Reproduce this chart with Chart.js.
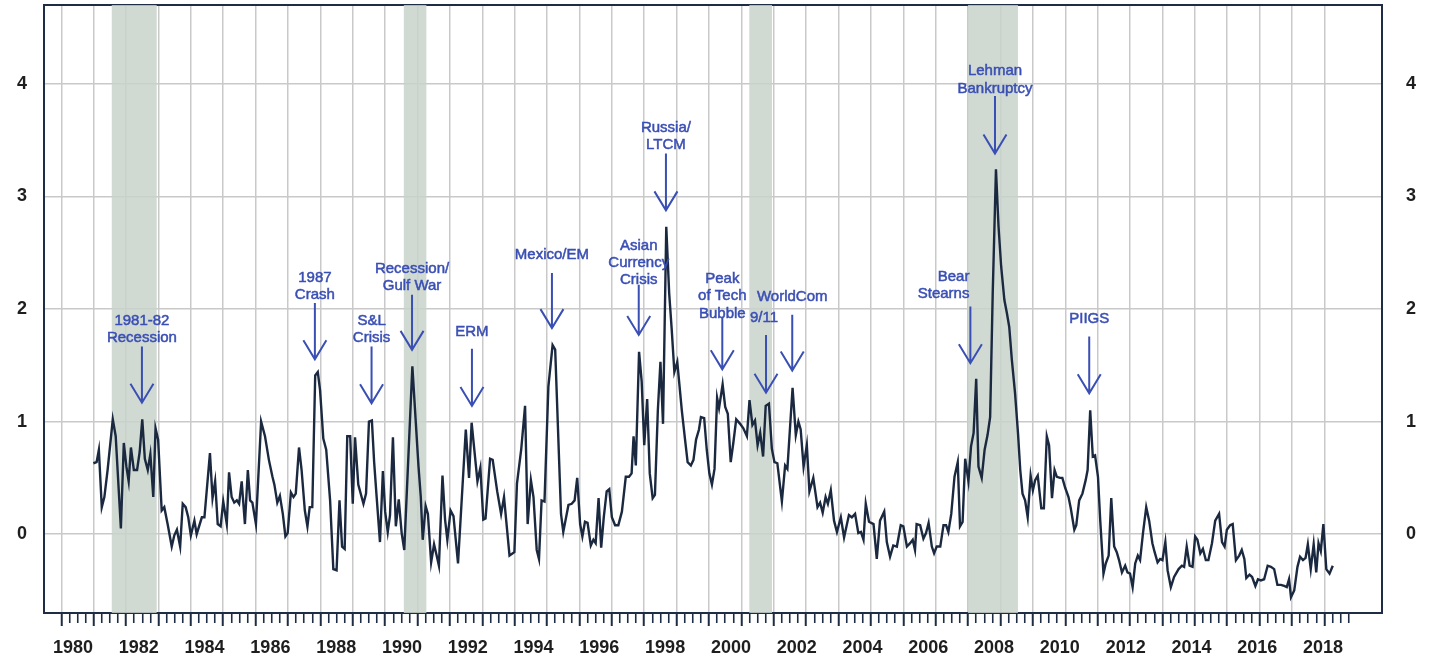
<!DOCTYPE html>
<html>
<head>
<meta charset="utf-8">
<script src="https://cdn.jsdelivr.net/npm/chart.js@4.4.1/dist/chart.umd.min.js"></script>
<style>
  html, body { margin: 0; padding: 0; background: #fff; }
  #wrap { width: 1429px; height: 661px; position: relative; }
</style>
</head>
<body>
<div id="wrap"><canvas id="chart"></canvas></div>
<script>
// monthly readings (decimal year) and the plotted series
const dates = [
  1980.99, 1981.09, 1981.16, 1981.25, 1981.33, 1981.43, 1981.59, 1981.68, 1981.84, 1981.93,
  1982.01, 1982.08, 1982.15, 1982.24, 1982.34, 1982.42, 1982.50, 1982.58, 1982.67, 1982.75, 1982.84, 1982.91, 1982.99,
  1983.10, 1983.18, 1983.29, 1983.41, 1983.49, 1983.57, 1983.67, 1983.75, 1983.84, 1983.92,
  1984.00, 1984.11, 1984.18, 1984.34, 1984.42, 1984.59, 1984.67, 1984.75, 1984.83, 1984.92,
  1985.00, 1985.11, 1985.18, 1985.26, 1985.34, 1985.42, 1985.49, 1985.57, 1985.67, 1985.76, 1985.83, 1985.90,
  1986.01, 1986.17, 1986.29, 1986.41, 1986.52, 1986.58, 1986.67, 1986.75, 1986.84, 1986.92, 1986.99,
  1987.09, 1987.17, 1987.24, 1987.34, 1987.42, 1987.52, 1987.60, 1987.67, 1987.75, 1987.84, 1987.92, 1987.99,
  1988.09, 1988.18, 1988.30, 1988.40, 1988.50, 1988.59, 1988.67, 1988.75, 1988.83, 1988.92,
  1989.00, 1989.07, 1989.17, 1989.33, 1989.41, 1989.50, 1989.59, 1989.66, 1989.74, 1989.84, 1989.93,
  1990.00, 1990.08, 1990.15, 1990.24, 1990.33, 1990.42, 1990.51, 1990.59, 1990.84,
  1991.03, 1991.10, 1991.16, 1991.25, 1991.32, 1991.42, 1991.51, 1991.59, 1991.66, 1991.77, 1991.85, 1991.92,
  1992.02, 1992.11, 1992.25, 1992.49, 1992.59, 1992.67, 1992.85, 1992.94,
  1993.03, 1993.10, 1993.24, 1993.32, 1993.46, 1993.58, 1993.67, 1993.84, 1993.99,
  1994.07, 1994.20, 1994.32, 1994.40, 1994.50, 1994.58, 1994.68, 1994.75, 1994.83, 1994.92,
  1995.04, 1995.17, 1995.25, 1995.43, 1995.50, 1995.66, 1995.76, 1995.85, 1995.93,
  1996.02, 1996.09, 1996.17, 1996.25, 1996.35, 1996.43, 1996.50, 1996.59, 1996.67, 1996.75, 1996.84, 1996.92,
  1997.00, 1997.10, 1997.20, 1997.31, 1997.43, 1997.53, 1997.61, 1997.67, 1997.74, 1997.84, 1997.92,
  1998.00, 1998.09, 1998.17, 1998.26, 1998.33, 1998.42, 1998.50, 1998.58, 1998.68, 1998.77, 1998.85, 1998.93,
  1999.02, 1999.16, 1999.26, 1999.34, 1999.44, 1999.52, 1999.60, 1999.69, 1999.75, 1999.85, 1999.93,
  2000.01, 2000.09, 2000.17, 2000.25, 2000.31, 2000.42, 2000.50, 2000.58, 2000.67, 2000.75, 2000.84, 2000.96,
  2001.06, 2001.17, 2001.25, 2001.34, 2001.42, 2001.50, 2001.58, 2001.67, 2001.75, 2001.85, 2001.94,
  2002.02, 2002.11, 2002.25, 2002.35, 2002.42, 2002.58, 2002.68, 2002.76, 2002.83, 2002.92,
  2003.02, 2003.10, 2003.22, 2003.35, 2003.43, 2003.51, 2003.60, 2003.67, 2003.76, 2003.86, 2003.95,
  2004.07, 2004.17, 2004.32, 2004.41, 2004.51, 2004.61, 2004.69, 2004.77, 2004.84, 2004.94,
  2005.08, 2005.18, 2005.28, 2005.41, 2005.49, 2005.59, 2005.69, 2005.80, 2005.92,
  2006.00, 2006.11, 2006.21, 2006.29, 2006.36, 2006.41, 2006.52, 2006.62, 2006.70, 2006.78, 2006.88, 2006.95,
  2007.03, 2007.14, 2007.24, 2007.32, 2007.39, 2007.48, 2007.58, 2007.68, 2007.75, 2007.83, 2007.91,
  2008.01, 2008.09, 2008.17, 2008.25, 2008.32, 2008.42, 2008.51, 2008.60, 2008.68, 2008.76, 2008.86, 2008.94,
  2009.02, 2009.12, 2009.20, 2009.27, 2009.35, 2009.45, 2009.54, 2009.61, 2009.68, 2009.76, 2009.84, 2009.93,
  2010.00, 2010.07, 2010.15, 2010.26, 2010.34, 2010.43, 2010.50, 2010.59, 2010.67, 2010.74, 2010.84, 2010.91,
  2011.00, 2011.10, 2011.17, 2011.28, 2011.34, 2011.43, 2011.53, 2011.63, 2011.69, 2011.77, 2011.85, 2011.92,
  2012.01, 2012.08, 2012.18, 2012.25, 2012.34, 2012.42, 2012.51, 2012.59, 2012.66, 2012.75, 2012.85, 2012.92,
  2013.00, 2013.08, 2013.16, 2013.24, 2013.31, 2013.40, 2013.50, 2013.59, 2013.69, 2013.76, 2013.85, 2013.93,
  2014.00, 2014.09, 2014.16, 2014.26, 2014.36, 2014.50, 2014.60, 2014.67, 2014.75, 2014.84, 2014.93,
  2015.01, 2015.08, 2015.17, 2015.25, 2015.34, 2015.42, 2015.53, 2015.63, 2015.75, 2015.84, 2015.92, 2015.99,
  2016.09, 2016.17, 2016.27, 2016.37, 2016.45, 2016.53, 2016.59, 2016.69, 2016.77, 2016.87, 2016.95,
  2017.04, 2017.14, 2017.25, 2017.35, 2017.45, 2017.55, 2017.66, 2017.76, 2017.84, 2017.91, 2017.97,
  2018.07, 2018.17, 2018.25, 2018.34, 2018.42, 2018.49, 2018.58, 2018.67, 2018.75, 2018.82, 2018.89, 2018.97,
  2019.06, 2019.16, 2019.26
];
const values = [
  0.63, 0.64, 0.75, 0.24, 0.33, 0.57, 1.02, 0.87, 0.05, 0.81,
  0.60, 0.47, 0.77, 0.57, 0.57, 0.73, 1.02, 0.67, 0.57, 0.71, 0.33, 0.94, 0.84,
  0.21, 0.24, 0.08, -0.11, -0.01, 0.04, -0.11, 0.27, 0.24, 0.15,
  -0.01, 0.12, 0.00, 0.15, 0.15, 0.72, 0.32, 0.47, 0.09, 0.07,
  0.29, 0.09, 0.55, 0.33, 0.28, 0.30, 0.27, 0.47, 0.09, 0.57, 0.30, 0.28,
  0.09, 1.00, 0.87, 0.66, 0.51, 0.44, 0.28, 0.34, 0.18, -0.02, 0.01,
  0.37, 0.33, 0.36, 0.77, 0.57, 0.21, 0.07, 0.24, 0.24, 1.41, 1.44, 1.28,
  0.85, 0.75, 0.30, -0.31, -0.32, 0.30, -0.11, -0.13, 0.87, 0.87,
  0.27, 0.86, 0.44, 0.27, 0.36, 1.00, 1.01, 0.64, 0.32, -0.07, 0.56,
  0.20, 0.02, 0.17, 0.86, 0.07, 0.31, 0.01, -0.14, 1.49,
  0.60, 0.33, -0.05, 0.25, 0.18, -0.25, -0.09, -0.19, -0.28, 0.52, 0.13, -0.05,
  0.21, 0.16, -0.26, 0.93, 0.50, 0.99, 0.47, 0.59,
  0.13, 0.14, 0.67, 0.66, 0.38, 0.18, 0.33, -0.19, -0.16,
  0.45, 0.75, 1.14, 0.09, 0.48, 0.33, -0.14, -0.22, 0.30, 0.29,
  1.31, 1.68, 1.64, 0.18, 0.02, 0.26, 0.27, 0.30, 0.50,
  0.09, -0.02, 0.11, 0.10, -0.10, -0.05, -0.08, 0.32, -0.12, 0.15, 0.38, 0.40,
  0.15, 0.08, 0.08, 0.20, 0.51, 0.51, 0.54, 0.87, 0.61, 1.62, 1.36,
  0.79, 1.20, 0.54, 0.32, 0.35, 1.10, 1.53, 0.98, 2.73, 2.14, 1.81, 1.44,
  1.53, 1.10, 0.84, 0.64, 0.61, 0.66, 0.84, 0.93, 1.04, 1.03, 0.75,
  0.54, 0.44, 0.58, 1.21, 1.12, 1.33, 1.13, 1.07, 0.64, 0.81, 1.02, 0.98,
  0.94, 0.87, 1.19, 0.97, 1.01, 0.79, 0.90, 0.69, 1.14, 1.16, 0.76,
  0.64, 0.63, 0.29, 0.61, 0.58, 1.30, 0.88, 1.00, 0.93, 0.60,
  0.79, 0.38, 0.50, 0.24, 0.28, 0.19, 0.33, 0.27, 0.39, 0.12, 0.02,
  0.15, -0.03, 0.17, 0.15, 0.18, 0.01, 0.02, -0.05, 0.27, 0.11,
  0.09, -0.22, 0.12, 0.20, -0.07, -0.20, -0.10, -0.11, 0.08,
  0.07, -0.11, -0.08, -0.05, -0.14, 0.09, 0.08, -0.04, 0.01, 0.10, -0.11, -0.17,
  -0.11, -0.11, 0.08, 0.08, 0.02, 0.18, 0.51, 0.64, 0.07, 0.11, 0.67,
  0.47, 0.78, 0.90, 1.38, 0.60, 0.50, 0.75, 0.88, 1.04, 2.14, 3.24, 2.73,
  2.38, 2.08, 1.96, 1.84, 1.55, 1.25, 0.90, 0.57, 0.36, 0.30, 0.15, 0.52,
  0.39, 0.48, 0.52, 0.23, 0.23, 0.87, 0.79, 0.32, 0.57, 0.51, 0.50, 0.50,
  0.41, 0.33, 0.23, 0.04, 0.08, 0.30, 0.36, 0.48, 0.57, 1.10, 0.69, 0.70,
  0.51, 0.12, -0.35, -0.26, -0.19, 0.32, -0.11, -0.16, -0.23, -0.34, -0.28, -0.34,
  -0.35, -0.47, -0.26, -0.19, -0.23, 0.01, 0.24, 0.12, -0.08, -0.16, -0.25, -0.22,
  -0.23, -0.07, -0.32, -0.47, -0.38, -0.31, -0.28, -0.29, -0.11, -0.28, -0.29,
  -0.02, -0.05, -0.17, -0.13, -0.23, -0.23, -0.08, 0.12, 0.18, -0.07, -0.11, 0.04,
  0.08, 0.09, -0.23, -0.19, -0.14, -0.22, -0.39, -0.36, -0.38, -0.46, -0.40,
  -0.41, -0.40, -0.28, -0.29, -0.31, -0.45, -0.45, -0.46, -0.47, -0.40, -0.56,
  -0.50, -0.29, -0.20, -0.23, -0.21, -0.09, -0.31, -0.09, -0.34, -0.08, -0.15, 0.09,
  -0.31, -0.35, -0.28
];

// shaded recessions
const recessionStart = [1981.55, 1990.57, 2001.24, 2007.99];
const recessionEnd = [1982.95, 1991.28, 2001.95, 2009.54];

// axis labels
const yearLabels = [1980, 1982, 1984, 1986, 1988, 1990, 1992, 1994, 1996, 1998,
  2000, 2002, 2004, 2006, 2008, 2010, 2012, 2014, 2016, 2018];
const yTicks = [0, 1, 2, 3, 4];

// event call-outs
const events = [
  { text: ['1981-82', 'Recession'], x: 1982.49, textY: 1.895, from: 1.666, to: 1.168 },
  { text: ['1987', 'Crash'], x: 1987.83, textY: 2.275, from: 2.053, to: 1.554 },
  { text: ['S&L', 'Crisis'], x: 1989.58, textY: 1.895, from: 1.666, to: 1.163 },
  { text: ['Recession/', 'Gulf War'], x: 1990.83, textY: 2.355, from: 2.126, to: 1.637 },
  { text: ['ERM'], x: 1992.68, textY: 1.797, from: 1.646, to: 1.139 },
  { text: ['Mexico/EM'], x: 1995.15, textY: 2.482, from: 2.319, to: 1.830 },
  { text: ['Asian', 'Currency', 'Crisis'], x: 1997.83, textY: 2.565, from: 2.215, to: 1.770 },
  { text: ['Russia/', 'LTCM'], x: 1998.67, textY: 3.609, from: 3.381, to: 2.876 },
  { text: ['Peak', 'of Tech', 'Bubble'], x: 2000.41, textY: 2.266, from: 1.92, to: 1.465 },
  { text: ['9/11'], x: 2001.76, textX: 2001.70, textY: 1.919, from: 1.770, to: 1.257 },
  { text: ['WorldCom'], x: 2002.57, textY: 2.106, from: 1.948, to: 1.453 },
  { text: ['Bear', 'Stearns'], x: 2008.07, textX: 2008.04, align: 'right', textY: 2.289, from: 2.022, to: 1.519 },
  { text: ['Lehman', 'Bankruptcy'], x: 2008.83, textY: 4.113, from: 3.891, to: 3.381 },
  { text: ['PIIGS'], x: 2011.74, textY: 1.910, from: 1.755, to: 1.252 }
];

const Y_MIN = -0.7, Y_MAX = 4.7;
const X_MIN = 1979.466, X_MAX = 2020.78;       // plot frame, years
const LABEL_MIN = 1979.118, LABEL_MAX = 2019.793; // year labels sit a bit off the grid

const navy = '#1f2c46';
const gridGrey = '#c9c9c9';
const eventBlue = '#3a4fb4';
const fontFamily = '"Liberation Sans", Arial, Helvetica, sans-serif';
const tickFont = { family: fontFamily, size: 18, weight: 'bold' };

// quarterly tick marks under the axis
const quarterTicks = [];
for (let q = 1980 * 4; q <= 2019.75 * 4; q++) quarterTicks.push(q / 4);

const noPad = s => { s.paddingTop = 0; s.paddingBottom = 0; s.paddingLeft = 0; s.paddingRight = 0; };

const datasets = [{
  data: dates.map((d, i) => ({ x: d, y: values[i] })),
  xAxisID: 'x', yAxisID: 'y',
  borderColor: '#1b2940', borderWidth: 2.4,
  pointRadius: 0, tension: 0, fill: false, order: 0
}];
recessionStart.forEach((s, i) => {
  datasets.push({
    data: [{ x: s, y: Y_MAX }, { x: recessionEnd[i], y: Y_MAX }],
    xAxisID: 'x', yAxisID: 'y',
    borderWidth: 0, pointRadius: 0, fill: 'start',
    backgroundColor: 'rgba(200,210,202,0.85)', order: 1
  });
});

const eventPlugin = {
  id: 'events',
  afterDatasetsDraw(chart) {
    const { ctx, scales: { x, y } } = chart;
    ctx.save();
    ctx.strokeStyle = eventBlue;
    ctx.fillStyle = eventBlue;
    ctx.font = '15px ' + fontFamily;
    ctx.textBaseline = 'middle';
    events.forEach(ev => {
      const ax = x.getPixelForValue(ev.x);
      const top = y.getPixelForValue(ev.from);
      const tip = y.getPixelForValue(ev.to);
      ctx.lineWidth = 2;
      ctx.beginPath();
      ctx.moveTo(ax, top);
      ctx.lineTo(ax, tip);
      ctx.moveTo(ax - 11.5, tip - 19);
      ctx.lineTo(ax, tip);
      ctx.lineTo(ax + 11.5, tip - 19);
      ctx.stroke();

      // labels look slightly heavy in the original, so a hairline stroke on top
      const tx = x.getPixelForValue(ev.textX !== undefined ? ev.textX : ev.x);
      const ty = y.getPixelForValue(ev.textY);
      ctx.textAlign = ev.align || 'center';
      ctx.lineWidth = 0.5;
      ev.text.forEach((line, i) => {
        ctx.fillText(line, tx, ty + i * 17.3);
        ctx.strokeText(line, tx, ty + i * 17.3);
      });
    });
    ctx.restore();
  }
};

new Chart(document.getElementById('chart'), {
  type: 'line',
  data: { datasets },
  options: {
    responsive: true,
    maintainAspectRatio: false,
    animation: false,
    layout: { padding: 0 },
    plugins: { legend: { display: false }, tooltip: { enabled: false } },
    scales: {
      x: {
        type: 'linear', position: 'bottom', weight: 0,
        min: X_MIN, max: X_MAX,
        afterBuildTicks: s => { s.ticks = quarterTicks.map(v => ({ value: v })); },
        afterFit: s => { noPad(s); s.height = 14; },
        ticks: { display: false },
        grid: {
          color: c => Number.isInteger(c.tick.value) ? gridGrey : 'rgba(0,0,0,0)',
          lineWidth: 1.5,
          tickColor: navy,
          tickLength: 13,
          tickWidth: c => Number.isInteger(c.tick.value) ? 2 : 1.6,
          tickBorderDash: c => Number.isInteger(c.tick.value) ? [] : [9, 30]
        },
        border: { display: true, color: navy, width: 2 }
      },
      xl: {
        type: 'linear', position: 'bottom', weight: 1,
        min: LABEL_MIN, max: LABEL_MAX,
        afterBuildTicks: s => { s.ticks = yearLabels.map(v => ({ value: v })); },
        afterFit: s => { noPad(s); s.height = 34; },
        ticks: {
          font: tickFont, color: '#1e1e1e', padding: 10,
          maxRotation: 0, autoSkip: false,
          callback: v => String(v)
        },
        grid: { display: false, drawTicks: false },
        border: { display: false }
      },
      xTop: {
        type: 'linear', position: 'top', display: true,
        min: X_MIN, max: X_MAX,
        afterFit: s => { noPad(s); s.height = 5; },
        ticks: { display: false },
        grid: { display: false, drawTicks: false },
        border: { display: true, color: navy, width: 2 }
      },
      y: {
        type: 'linear', position: 'left',
        min: Y_MIN, max: Y_MAX,
        afterBuildTicks: s => { s.ticks = yTicks.map(v => ({ value: v })); },
        afterFit: s => { noPad(s); s.width = 44; },
        ticks: { font: tickFont, color: '#1e1e1e', padding: 17, callback: v => String(v) },
        grid: { color: gridGrey, lineWidth: 1.5, drawTicks: false },
        border: { display: true, color: navy, width: 2 }
      },
      y2: {
        type: 'linear', position: 'right',
        min: Y_MIN, max: Y_MAX,
        afterBuildTicks: s => { s.ticks = yTicks.map(v => ({ value: v })); },
        afterFit: s => { noPad(s); s.width = 47; },
        ticks: { font: tickFont, color: '#1e1e1e', padding: 24, callback: v => String(v) },
        grid: { display: false, drawTicks: false },
        border: { display: true, color: navy, width: 2 }
      }
    }
  },
  plugins: [eventPlugin]
});
</script>
</body>
</html>
